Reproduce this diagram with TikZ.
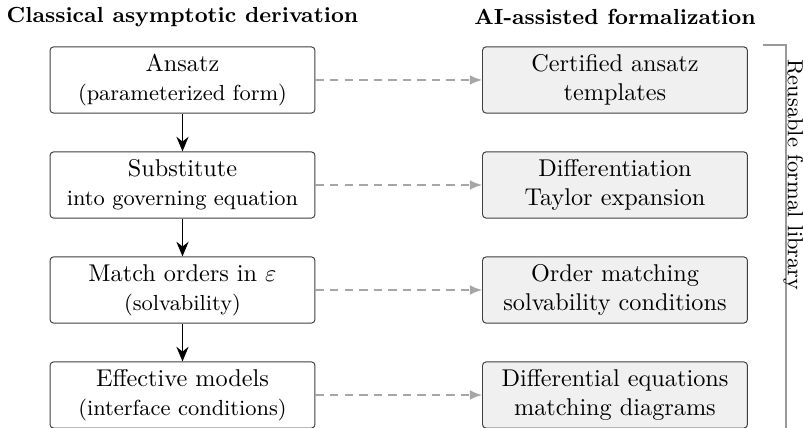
\documentclass[tikz,border=0pt]{standalone}
\usetikzlibrary{arrows.meta}
\begin{document}
\begin{tikzpicture}[
    stage/.style={rectangle, rounded corners=1.5pt, draw=black!75, fill=white, minimum width=3.84cm, minimum height=0.96cm, align=center, inner sep=2pt},
    formal/.style={stage, fill=black!6},
    flow/.style={-{Stealth[length=6pt,width=5pt]}, thick},
    link/.style={-{Latex[length=5pt,width=4pt]}, semithick, draw=black!35, dash pattern=on 3.5pt off 2.5pt},
    head/.style={font=\small\bfseries}
]
\useasboundingbox (0,0) rectangle (11.638,-6.203);

% Titel
\node[head] (hleft) at (2.645,-0.246) {Classical asymptotic derivation};
\node[head] (hright) at (8.913,-0.246) {AI-assisted formalization};

% Klassisch
\node[stage] (ansatz) at (2.645,-1.159) {Ansatz\\{\small (parameterized form)}};
\node[stage] (subst) at (2.645,-2.681) {Substitute\\{\small into governing equation}};
\node[stage] (match) at (2.645,-4.203) {Match orders in $\varepsilon$\\{\small (solvability)}};
\node[stage] (models) at (2.645,-5.725) {Effective models\\{\small (interface conditions)}};

\draw[flow] (ansatz) -- (subst);
\draw[flow] (subst) -- (match);
\draw[flow] (match) -- (models);

% Formal
\node[formal] (templ) at (8.913,-1.159) {Certified ansatz\\templates};
\node[formal] (taylor) at (8.913,-2.681) {Differentiation\\Taylor expansion};
\node[formal] (order) at (8.913,-4.203) {Order matching\\solvability conditions};
\node[formal] (diag) at (8.913,-5.725) {Differential equations\\matching diagrams};

\draw[link] (ansatz) -- (templ);
\draw[link] (subst) -- (taylor);
\draw[link] (match) -- (order);
\draw[link] (models) -- (diag);

% Bibliothek
\coordinate (btop) at (11.058,-0.652);
\coordinate (bcorner) at (11.391,-0.652);
\coordinate (bbottom) at (11.391,-6.3);
\draw[semithick, black!40] (btop) -- (bcorner) -- (bbottom);
\node[font=\small, rotate=-90, anchor=base, inner sep=0pt] (lib) at (11.42,-2.536) {Reusable formal library};
\end{tikzpicture}
\end{document}
